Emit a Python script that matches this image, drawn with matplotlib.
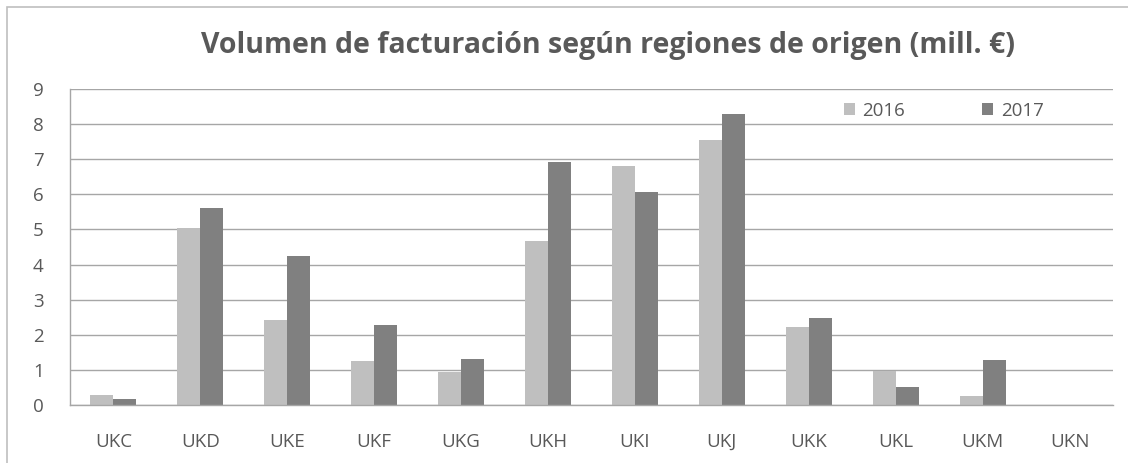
import matplotlib.pyplot as plt
import numpy as np
from matplotlib.patches import Rectangle

regions = ["UKC", "UKD", "UKE", "UKF", "UKG", "UKH", "UKI", "UKJ", "UKK", "UKL", "UKM", "UKN"]
v2016 = [0.28, 5.03, 2.41, 1.25, 0.94, 4.68, 6.80, 7.55, 2.22, 0.98, 0.26, 0.0]
v2017 = [0.16, 5.60, 4.25, 2.27, 1.32, 6.93, 6.07, 8.30, 2.48, 0.52, 1.27, 0.0]
years = ["2016", "2017"]
title = "Volumen de facturación según regiones de origen (mill. €)"

plt.rcParams['font.family'] = ['Open Sans', 'DejaVu Sans']
txt = '#595959'

fig = plt.figure(figsize=(11.28, 4.63), dpi=100)
ax = fig.add_axes([70/1128, 1-405/463, (1113-70)/1128, (405-89)/463])

x = np.arange(len(regions))
w = 0.265
b1 = ax.bar(x - w/2, v2016, w, color='#BFBFBF', label=years[0], zorder=3)
b2 = ax.bar(x + w/2, v2017, w, color='#808080', label=years[1], zorder=3)

ax.set_xlim(-0.5, len(regions) - 0.5)
ax.set_ylim(0, 9)
ax.set_yticks(range(0, 10))
ax.set_xticks(x)
ax.set_xticklabels(regions)
ax.yaxis.grid(True, color='#A6A6A6', linewidth=1, zorder=0)
ax.tick_params(axis='both', length=0, labelsize=13.5, colors=txt)
ax.tick_params(axis='x', pad=20)
ax.tick_params(axis='y', pad=19)
for s in ['top', 'right']:
    ax.spines[s].set_visible(False)
for s in ['left', 'bottom']:
    ax.spines[s].set_color('#A6A6A6')
    ax.spines[s].set_linewidth(1)
ax.spines['bottom'].set_zorder(4)

fig.text(608/1128, 1-46/463, title, ha='center', va='center',
         fontsize=20.5, fontweight='bold', color=txt)

leg = fig.legend(handles=[b1, b2], loc='center left', ncol=2,
                 bbox_to_anchor=(836/1128, 1-111/463), frameon=False,
                 handlelength=0.6, handleheight=0.6, handletextpad=0.4,
                 columnspacing=4.1, fontsize=13.5, borderaxespad=0)
for t in leg.get_texts():
    t.set_color(txt)

fig.patches.append(Rectangle((7/1128, -0.1), 1.2, 1.1 - 7/463, transform=fig.transFigure,
                             fill=False, edgecolor='#BFBFBF', linewidth=1.2))

fig.savefig('out.png', dpi=100)
